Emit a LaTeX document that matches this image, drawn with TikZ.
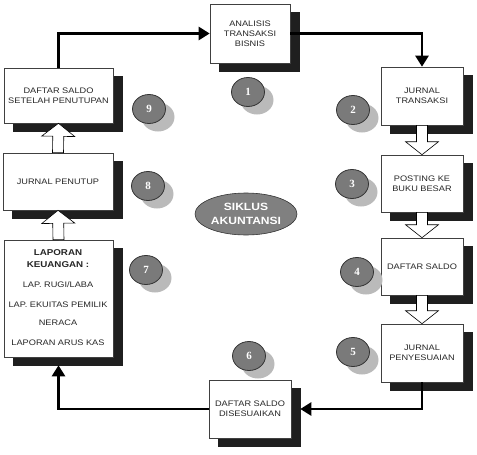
\documentclass[tikz,border=0pt]{standalone}
\usepackage{fontspec}
\setmainfont{Liberation Sans}[FakeStretch=1.15]
\newfontfamily\numfont{Liberation Serif}
\usetikzlibrary{calc,arrows.meta,shapes.geometric}
\newcommand\hollowarrow[2]{%
  \coordinate (ha) at ($(#2)!13pt!(#1)$);
  \draw[hollow] ($(#1)!5.5pt!-90:(#2)$) -- ($(ha)!5.5pt!-90:(#2)$) -- ($(ha)!16.5pt!-90:(#2)$) -- (#2)
    -- ($(ha)!16.5pt!90:(#2)$) -- ($(ha)!5.5pt!90:(#2)$) -- ($(#1)!5.5pt!90:(#2)$) -- cycle;}
% #1 name, #2 x, #3 y, #4 width, #5 height, #6 text
\newcommand\shbox[6]{%
  \node[shad, minimum width=#4pt, minimum height=#5pt] (#1s) at (#2+9,#3+8) {};
  \node[box, minimum width=#4pt, minimum height=#5pt] (#1) at (#2,#3) {#6};}
\begin{document}
\begin{tikzpicture}[x=1pt,y=-1pt,
  box/.style={draw=black!75, line width=0.6pt, fill=white, inner sep=0pt, align=center,
    font=\fontsize{8}{9.8}\selectfont, text=black!85},
  shad/.style={rectangle, draw=black!88, fill=black!88, line width=0.4pt, inner sep=0pt},
  txt/.style={inner sep=0pt, font=\fontsize{8}{9.8}\selectfont, text=black!85},
  conn/.style={line width=2.6pt, -{Triangle[length=11pt,width=13pt]}},
  hollow/.style={draw=black, line width=0.6pt, fill=white, line join=miter},
  ball/.style={ellipse, draw=black!80, line width=0.8pt, fill=black!52, minimum width=33pt,
    minimum height=29pt, inner sep=0pt, text=white, font=\numfont\bfseries\fontsize{11}{11}\selectfont},
  ballsh/.style={ellipse, fill=black!27, minimum width=33pt, minimum height=29pt, inner sep=0pt}
]
\useasboundingbox (0,0) rectangle (477,455);

% boxes with their shadows
\shbox{b1}{250}{33.5}{80}{59}{ANALISIS\\TRANSAKSI\\BISNIS}
\shbox{b2}{422}{96}{82}{58}{JURNAL\\TRANSAKSI}
\shbox{b3}{422}{183.5}{82}{57}{POSTING KE\\BUKU BESAR}
\shbox{b4}{422}{266.5}{82}{57}{DAFTAR SALDO}
\shbox{b5}{422}{353}{82}{58}{JURNAL\\PENYESUAIAN}
\shbox{b6}{250}{409}{82}{58}{DAFTAR SALDO\\DISESUAIKAN}
\shbox{b7}{58.5}{298.5}{109}{117}{}
\shbox{b8}{58}{181.5}{110}{57}{JURNAL PENUTUP}
\shbox{b9}{58.5}{95.5}{109}{55}{DAFTAR SALDO\\SETELAH PENUTUPAN}

% box 7 text
\node[txt, font=\bfseries\fontsize{8.5}{10}\selectfont] (t7a) at (58,253) {LAPORAN};
\node[txt, font=\bfseries\fontsize{8.5}{10}\selectfont] (t7b) at (58,265) {KEUANGAN :};
\node[txt] (t7c) at (58,285) {LAP. RUGI/LABA};
\node[txt] (t7d) at (58,305) {LAP. EKUITAS PEMILIK};
\node[txt] (t7e) at (58,323) {NERACA};
\node[txt] (t7f) at (58,343) {LAPORAN ARUS KAS};

% thick connectors
\coordinate (b6in) at ([xshift=9pt]b6.east);
\coordinate (b7in) at ([yshift=-8pt]b7.south);
\draw[conn] (b9.north) |- (b1.west);
\draw[conn] (b1.east) -| (b2.north);
\draw[conn] (b5.south) |- (b6in);
\draw[conn] (b6.west) -| (b7in);

% hollow arrows
\hollowarrow{b2.south}{b3.north}
\hollowarrow{b3.south}{b4.north}
\hollowarrow{b4.south}{b5.north}
\hollowarrow{b7.north}{b8.south}
\hollowarrow{b8.north}{b9.south}

% centre ellipse
\node[ellipse, draw=black!80, line width=0.6pt, fill=black!50, minimum width=102pt, minimum height=42pt,
  inner sep=0pt, align=center, text=white, font=\bfseries\fontsize{10.5}{14}\selectfont] (siklus) at (246,214) {SIKLUS\\AKUNTANSI};

% numbered balls
\foreach \n/\x/\y in {1/248/92, 2/353/110, 3/352/184, 4/357/272, 5/353/352, 6/249/356, 7/146/270, 8/148/186, 9/149/109}{
  \node[ballsh] (s\n) at (\x+9,\y+8) {};
  \node[ball] (n\n) at (\x,\y) {\n};
}
\end{tikzpicture}
\end{document}
